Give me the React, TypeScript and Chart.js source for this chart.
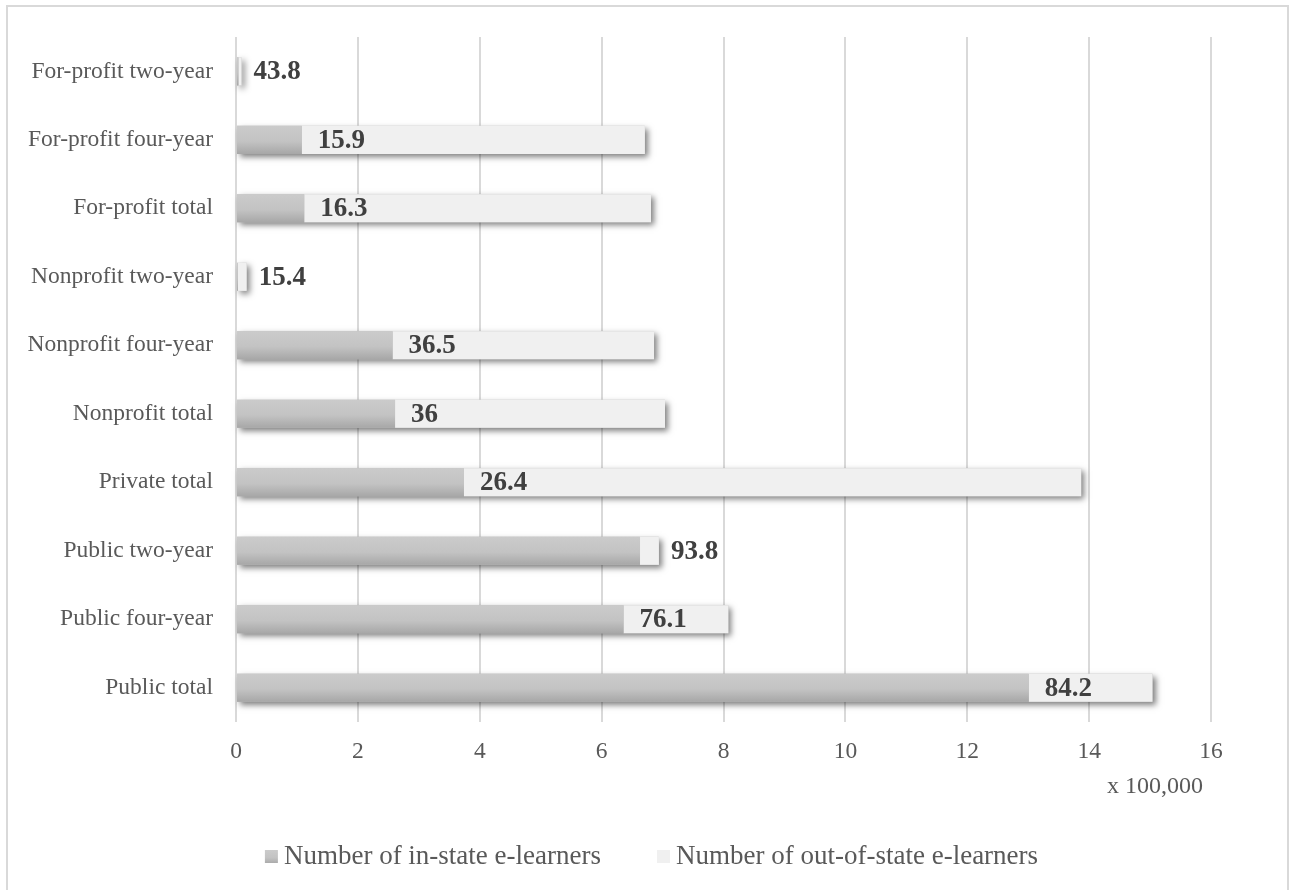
import React, { useEffect, useRef } from "react";
import { Chart, registerables } from "chart.js";

Chart.register(...registerables);

// ---- data ----
const categories = [
  "For-profit two-year",
  "For-profit four-year",
  "For-profit total",
  "Nonprofit two-year",
  "Nonprofit four-year",
  "Nonprofit total",
  "Private total",
  "Public two-year",
  "Public four-year",
  "Public total",
];
// values in units of 100,000
const inStateLearners = [0.04, 1.08, 1.12, 0.03, 2.57, 2.61, 3.74, 6.63, 6.36, 13.01];
const outOfStateLearners = [0.05, 5.63, 5.69, 0.145, 4.29, 4.43, 10.13, 0.31, 1.72, 2.03];
const inStateShareLabels = ["43.8", "15.9", "16.3", "15.4", "36.5", "36", "26.4", "93.8", "76.1", "84.2"];
const seriesNames = ["Number of in-state e-learners", "Number of out-of-state e-learners"];
const xTickMin = 0;
const xTickMax = 16;
const xTickStep = 2;
const axisUnitLabel = "x 100,000";

const FONT = "'Liberation Serif', 'Times New Roman', serif";
const TEXT_GREY = "#595959";
const LABEL_DARK = "#404040";
const GRID = "#d9d9d9";
const OUT_FILL = "#f0f0f0";
const BAR_PCT = 0.41;

function makeInGradient(c: CanvasRenderingContext2D, top: number, bottom: number) {
  const g = c.createLinearGradient(0, top, 0, bottom);
  g.addColorStop(0, "#cbcbcb");
  g.addColorStop(0.55, "#c3c3c3");
  g.addColorStop(1, "#a7a7a7");
  return g;
}

function inStateFill(ctx: any) {
  const chart = ctx.chart;
  const area = chart.chartArea;
  const ys = chart.scales && chart.scales.y;
  if (ctx.type !== "data" || !area || !ys) return "#c2c2c2";
  const cy = ys.getPixelForValue(ctx.dataIndex);
  const half = ((area.bottom - area.top) / categories.length) * BAR_PCT / 2;
  return makeInGradient(chart.ctx, cy - half, cy + half);
}

const shadowPlugin = {
  id: "barShadow",
  beforeDatasetsDraw(chart: any) {
    const m0 = chart.getDatasetMeta(0);
    const m1 = chart.getDatasetMeta(1);
    const c = chart.ctx as CanvasRenderingContext2D;
    c.save();
    c.shadowColor = "rgba(0,0,0,0.5)";
    c.shadowBlur = 6;
    c.shadowOffsetX = 3;
    c.shadowOffsetY = 3;
    c.fillStyle = "#bdbdbd";
    m0.data.forEach((el: any, i: number) => {
      const a = el.getProps(["x", "y", "base", "height"], true);
      const b = m1.data[i].getProps(["x"], true);
      const left = Math.min(a.base, a.x);
      const right = Math.max(a.x, b.x);
      c.fillRect(left, a.y - a.height / 2, right - left, a.height);
    });
    c.restore();
  },
};

const labelPlugin = {
  id: "shareLabels",
  afterDatasetsDraw(chart: any) {
    const m0 = chart.getDatasetMeta(0);
    const m1 = chart.getDatasetMeta(1);
    const c = chart.ctx as CanvasRenderingContext2D;
    c.save();
    c.font = `bold 27px ${FONT}`;
    c.fillStyle = LABEL_DARK;
    c.textBaseline = "middle";
    c.textAlign = "left";
    m0.data.forEach((el: any, i: number) => {
      const a = el.getProps(["x", "y"], true);
      const b = m1.data[i].getProps(["x"], true);
      const txt = inStateShareLabels[i];
      const w = c.measureText(txt).width;
      const x = b.x - a.x < w + 20 ? b.x + 12 : a.x + 16;
      c.fillText(txt, x, a.y + 1);
    });
    c.restore();
  },
};

const extrasPlugin = {
  id: "extras",
  afterDraw(chart: any) {
    const c = chart.ctx as CanvasRenderingContext2D;
    const area = chart.chartArea;
    c.save();
    // axis unit
    c.font = `24px ${FONT}`;
    c.fillStyle = TEXT_GREY;
    c.textAlign = "right";
    c.textBaseline = "middle";
    c.fillText(axisUnitLabel, area.right - 8, 787);

    // legend
    c.font = `27px ${FONT}`;
    const box = 13;
    const gap = 6;
    const spacing = 56;
    const w1 = c.measureText(seriesNames[0]).width;
    const w2 = c.measureText(seriesNames[1]).width;
    const total = box + gap + w1 + spacing + box + gap + w2;
    const cy = 857;
    let x = chart.width / 2 + 7 - total / 2;
    c.fillStyle = makeInGradient(c, cy - 7, cy + 7);
    c.fillRect(x, cy - 7, box, box);
    c.fillStyle = TEXT_GREY;
    c.textAlign = "left";
    c.fillText(seriesNames[0], x + box + gap, cy);
    x += box + gap + w1 + spacing;
    c.fillStyle = OUT_FILL;
    c.fillRect(x, cy - 7, box, box);
    c.fillStyle = TEXT_GREY;
    c.fillText(seriesNames[1], x + box + gap, cy);
    c.restore();
  },
};

export default function App() {
  const canvasRef = useRef<HTMLCanvasElement | null>(null);

  useEffect(() => {
    if (!canvasRef.current) return;
    const chart = new Chart(canvasRef.current, {
      type: "bar",
      data: {
        labels: categories,
        datasets: [
          {
            label: seriesNames[0],
            data: inStateLearners,
            backgroundColor: inStateFill,
            borderWidth: 0,
            categoryPercentage: 1,
            barPercentage: BAR_PCT,
          },
          {
            label: seriesNames[1],
            data: outOfStateLearners,
            backgroundColor: OUT_FILL,
            borderWidth: 0,
            categoryPercentage: 1,
            barPercentage: BAR_PCT,
          },
        ],
      },
      options: {
        indexAxis: "y",
        responsive: false,
        animation: false,
        layout: { padding: { left: 0, top: 36, right: 78, bottom: 0 } },
        plugins: {
          legend: { display: false },
          tooltip: { enabled: false },
        },
        scales: {
          x: {
            stacked: true,
            min: xTickMin,
            max: xTickMax,
            ticks: {
              stepSize: xTickStep,
              color: TEXT_GREY,
              font: { family: FONT, size: 23.5 },
              padding: 16,
            },
            grid: { color: GRID, lineWidth: 2, drawTicks: false },
            border: { display: false },
            afterFit: (scale: any) => {
              scale.height = 168;
            },
          },
          y: {
            stacked: true,
            ticks: {
              color: TEXT_GREY,
              font: { family: FONT, size: 23.5 },
              padding: 23,
            },
            grid: { display: false, drawTicks: false },
            border: { display: false },
            afterFit: (scale: any) => {
              scale.width = 236;
            },
          },
        },
      },
      plugins: [shadowPlugin, labelPlugin, extrasPlugin],
    });
    return () => chart.destroy();
  }, []);

  return (
    <div
      style={{
        position: "fixed",
        left: 0,
        top: 0,
        width: 1289,
        height: 890,
        overflow: "hidden",
        background: "#ffffff",
      }}
    >
      <div
        style={{
          position: "absolute",
          left: 6,
          top: 5,
          width: 1283,
          height: 1000,
          boxSizing: "border-box",
          border: "2px solid #d9d9d9",
        }}
      />
      <canvas
        ref={canvasRef}
        width={1289}
        height={890}
        style={{ position: "absolute", left: 0, top: 0, width: 1289, height: 890 }}
      />
    </div>
  );
}
